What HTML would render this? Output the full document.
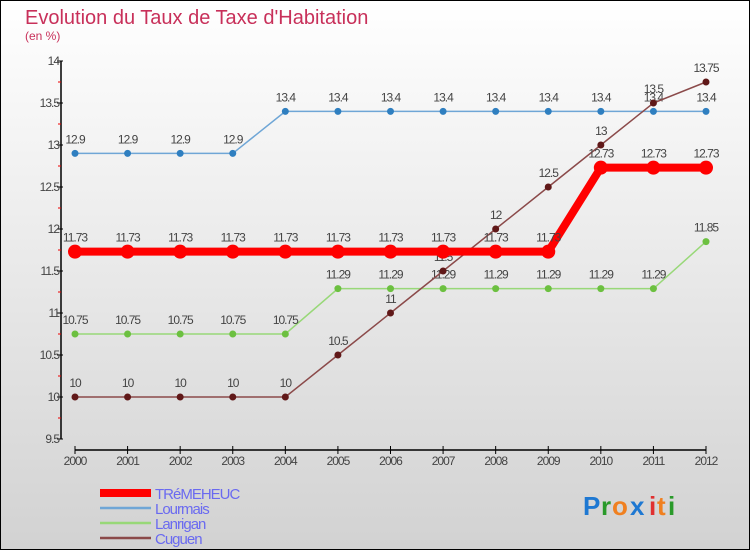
<!DOCTYPE html>
<html><head><meta charset="utf-8"><style>
html,body{margin:0;padding:0}
body{width:750px;height:550px;overflow:hidden;font-family:"Liberation Sans",sans-serif}
</style></head><body>
<svg id="chart" width="750" height="550" xmlns="http://www.w3.org/2000/svg">
<defs><linearGradient id="bg" x1="0" y1="0" x2="0" y2="1"><stop offset="0" stop-color="#ffffff"/><stop offset="1" stop-color="#d2d2d2"/></linearGradient></defs>
<rect x="0.5" y="0.5" width="749" height="549" fill="url(#bg)" stroke="#000" stroke-width="1"/>
<text x="25" y="24" font-size="20" fill="#c8305a">Evolution du Taux de Taxe d'Habitation</text>
<text x="25" y="40" font-size="12" fill="#c8305a">(en %)</text>
<g id="axes"></g>
<g id="series"></g>
<g id="legend"></g>
<g font-size="26" font-weight="bold">
<text x="583" y="515" fill="#1e78d2">P</text><text x="601" y="515" fill="#2a9a2a">r</text><text x="612" y="515" fill="#f08020">o</text><text x="630" y="515" fill="#1e78d2">x</text><text x="649" y="515" fill="#e03030">i</text><text x="657" y="515" fill="#f08020">t</text><text x="668" y="515" fill="#2a9a2a">i</text>
</g>
</svg>
<script>
const years = [2000,2001,2002,2003,2004,2005,2006,2007,2008,2009,2010,2011,2012];
const yTicks = [9.5,10,10.5,11,11.5,12,12.5,13,13.5,14];
const seriesNames = ["TRéMEHEUC","Lourmais","Lanrigan","Cuguen"];
const tremeheuc = [11.73,11.73,11.73,11.73,11.73,11.73,11.73,11.73,11.73,11.73,12.73,12.73,12.73];
const lourmais = [12.9,12.9,12.9,12.9,13.4,13.4,13.4,13.4,13.4,13.4,13.4,13.4,13.4];
const lanrigan = [10.75,10.75,10.75,10.75,10.75,11.29,11.29,11.29,11.29,11.29,11.29,11.29,11.85];
const cuguen = [10,10,10,10,10,10.5,11,11.5,12,12.5,13,13.5,13.75];

const NS="http://www.w3.org/2000/svg";
const x0=75,x1=706,yTop=61,yBot=439,vMin=9.5,vMax=14,xAxisY=450;
const xs=i=>x0+(x1-x0)*i/(years.length-1);
const ys=v=>yBot-(v-vMin)/(vMax-vMin)*(yBot-yTop);
function mk(t,a,p){const e=document.createElementNS(NS,t);for(const k in a)e.setAttribute(k,a[k]);p.appendChild(e);return e;}
const axes=document.getElementById('axes');
let e=mk('line',{x1:61,y1:yTop,x2:61,y2:yBot,stroke:'#000','stroke-width':1.5},axes);

yTicks.forEach(v=>{
  mk('line',{x1:57,y1:ys(v),x2:63,y2:ys(v),stroke:'#000'},axes);
  if(v<vMax) mk('line',{x1:58,y1:ys(v+0.25),x2:61,y2:ys(v+0.25),stroke:'#e00'},axes);
  const t=mk('text',{x:59,y:ys(v)+4,'font-size':12,fill:'#444','text-anchor':'end','letter-spacing':'-1'},axes);
  t.textContent=v;
  
  
});
e=mk('line',{x1:x0,y1:xAxisY,x2:x1,y2:xAxisY,stroke:'#000','stroke-width':1.5},axes);

years.forEach((y,i)=>{
  mk('line',{x1:xs(i),y1:446,x2:xs(i),y2:454,stroke:'#000'},axes);
  const t=mk('text',{x:xs(i),y:465,'font-size':12,fill:'#444','text-anchor':'middle','letter-spacing':'-1'},axes);
  t.textContent=y;
  
  
});
const sg=document.getElementById('series');
const defs=[[lourmais,'#6fa6d6','#2f7fc0',1.5,3.5],[lanrigan,'#98d878','#6cc040',1.5,3.5],[cuguen,'#8b4a4a','#601818',1.5,3.5],[tremeheuc,'#ff0000','#ff0000',8,7]];
const slug=['lourmais','lanrigan','cuguen','tremeheuc'];
defs.forEach((d,k)=>{
  const [vals,lc,pc,w,r]=d;
  const g=mk('g',{},sg);
  
  
  mk('polyline',{points:vals.map((v,i)=>xs(i)+','+ys(v)).join(' '),fill:'none',stroke:lc,'stroke-width':w},g);
  vals.forEach((v,i)=>{
    const c=mk('circle',{cx:xs(i),cy:ys(v),r:r,fill:pc},g);
    
    
    const t=mk('text',{x:xs(i),y:ys(v)-10,'font-size':12,fill:'#444','text-anchor':'middle','letter-spacing':'-1'},g);
    t.textContent=v;
    
    
  });
});
const lg=document.getElementById('legend');
const lcol=['#ff0000','#6fa6d6','#98d878','#8b4a4a'];
seriesNames.forEach((n,i)=>{
  const g=mk('g',{},lg);
  
  
  const yy=493+i*15;
  mk('line',{x1:100,y1:yy,x2:151,y2:yy,stroke:lcol[i],'stroke-width':i==0?8:2.5},g);
  const t=mk('text',{x:155,y:yy+6,'font-size':15,fill:'#6a6af0','letter-spacing':'-1'},g);
  t.textContent=n;
});
</script>
</body></html>
